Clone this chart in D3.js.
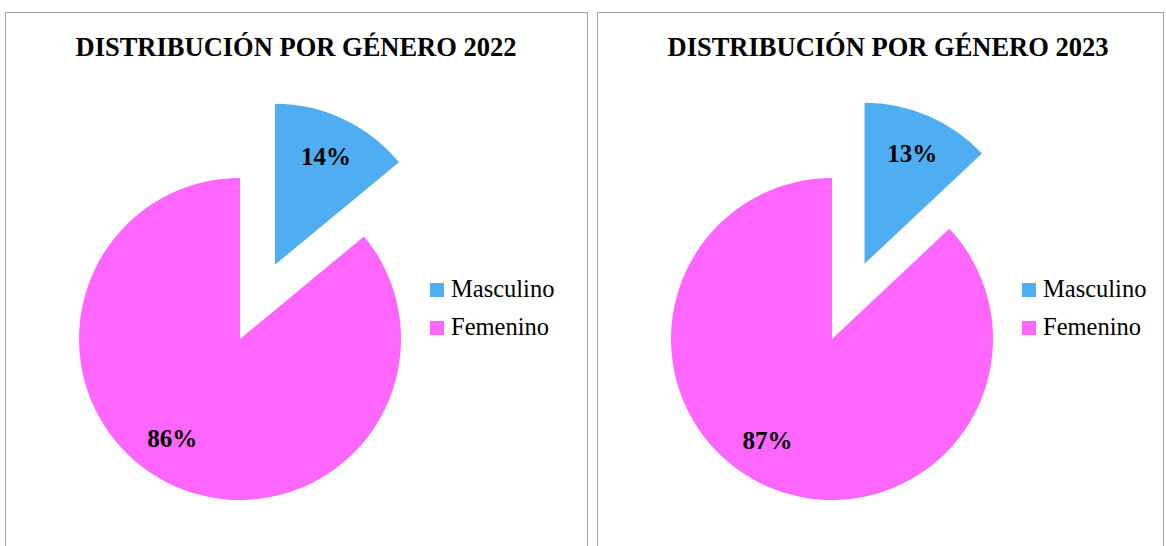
<!DOCTYPE html>
<html>
<head>
<meta charset="utf-8">
<script src="https://cdn.jsdelivr.net/npm/d3@7"></script>
<style>
  body { margin: 0; background: #fff; }
  svg { display: block; }
</style>
</head>
<body>
<script>
/* Data */

var categories = ["Masculino", "Femenino"];
var years = ["2022", "2023"];
var values2022 = [14, 86];
var values2023 = [13, 87];
var colors = ["#4FADF2", "#FF66FF"];

/* Layout */

var width = 1166;
var height = 546;
var panelX = [5, 597];
var panelW = [582, 566];
var panelTop = 12;
var radius = 161;
var explode = 82;
var labelAngleShift = [0, 0.16];

var svg = d3.select("body").append("svg")
	.attr("width", width)
	.attr("height", height);

var pie = d3.pie()
	.sort(null)
	.value(function(d) { return d; });

var arc = d3.arc()
	.innerRadius(0)
	.outerRadius(radius);

function drawPanel(i, values) {
	var x0 = panelX[i];
	var g = svg.append("g")
		.attr("transform", "translate(" + x0 + "," + panelTop + ")");

	g.append("rect")
		.attr("x", 0.5)
		.attr("y", 0.5)
		.attr("width", panelW[i])
		.attr("height", 600)
		.attr("fill", "#fff")
		.attr("stroke", "#a6a6a6")
		.attr("stroke-width", 1);

	g.append("text")
		.attr("x", 291)
		.attr("y", 44)
		.attr("text-anchor", "middle")
		.attr("font-family", "'Liberation Serif', 'Times New Roman', serif")
		.attr("font-weight", "bold")
		.attr("font-size", 26.5)
		.text("DISTRIBUCIÓN POR GÉNERO " + years[i]);

	var pieG = g.append("g")
		.attr("transform", "translate(235," + (339 - panelTop) + ")");

	var arcs = pie(values);

	// first slice (Masculino) is pulled out along its bisector
	function offset(d, j) {
		var a = (d.startAngle + d.endAngle) / 2;
		var dist = j == 0 ? explode : 0;
		return [Math.sin(a) * dist, -Math.cos(a) * dist];
	}

	var slice = pieG.selectAll("g.slice")
		.data(arcs)
		.enter().append("g")
			.attr("class", "slice")
			.attr("transform", function(d, j) {
				var o = offset(d, j);
				return "translate(" + o[0] + "," + o[1] + ")";
			});

	slice.append("path")
		.attr("d", arc)
		.attr("fill", function(d, j) { return colors[j]; });

	slice.append("text")
		.attr("x", function(d, j) {
			var a = (d.startAngle + d.endAngle) / 2 + labelAngleShift[j];
			return Math.sin(a) * radius * 0.745;
		})
		.attr("y", function(d, j) {
			var a = (d.startAngle + d.endAngle) / 2 + labelAngleShift[j];
			return -Math.cos(a) * radius * 0.745;
		})
		.attr("dy", "0.35em")
		.attr("text-anchor", "middle")
		.attr("font-family", "'Liberation Serif', 'Times New Roman', serif")
		.attr("font-weight", "bold")
		.attr("font-size", 25)
		.text(function(d) { return d.data + "%"; });

	var legend = g.selectAll("g.legend")
		.data(categories)
		.enter().append("g")
			.attr("class", "legend")
			.attr("transform", function(d, j) {
				return "translate(425," + (271 + j * 38) + ")";
			});

	legend.append("rect")
		.attr("width", 14)
		.attr("height", 14)
		.attr("fill", function(d, j) { return colors[j]; });

	legend.append("text")
		.attr("x", 21)
		.attr("y", 14)
		.attr("font-family", "'Liberation Serif', 'Times New Roman', serif")
		.attr("font-size", 24.5)
		.text(function(d) { return d; });
}

drawPanel(0, values2022);
drawPanel(1, values2023);
</script>
</body>
</html>
